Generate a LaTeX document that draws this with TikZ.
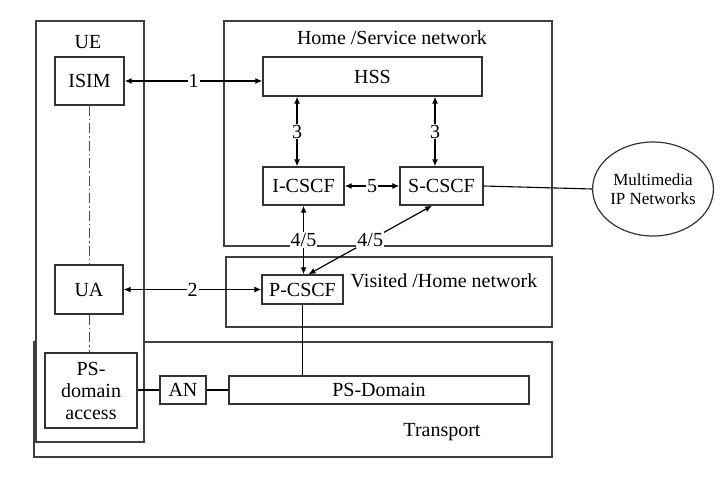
\documentclass[tikz,border=0pt]{standalone}
\usepackage{fontspec}
\setmainfont{Liberation Serif}
\usetikzlibrary{arrows.meta,shapes.geometric}
\begin{document}
\begin{tikzpicture}[x=1pt,y=-1pt,
  frame/.style={draw=black!75,line width=1.4pt,fill=white},
  blk/.style={draw=black!80,line width=1.4pt,fill=white,inner sep=0pt,align=center,
    font=\fontsize{20}{22}\selectfont},
  ttl/.style={inner sep=0pt,font=\fontsize{20}{22}\selectfont},
  lbl/.style={fill=white,inner sep=1pt,font=\fontsize{20}{22}\selectfont},
  conn/.style={line width=1.2pt,{Latex[length=7pt,width=6pt]}-{Latex[length=7pt,width=6pt]}},
  plain/.style={line width=1.1pt},
  dd/.style={line width=0.9pt,draw=black!70,dash pattern=on 10pt off 3pt on 1.5pt off 3pt}]
\useasboundingbox (0,0) rectangle (727,478);
% frames
\draw[frame] (34,342) rectangle (552,457);
\draw[frame] (36,21) rectangle (144,442);
\draw[frame] (224,21) rectangle (552,246);
\draw[frame] (226,257) rectangle (552,327);
\node[ttl] (tUE) at (88,42) {UE};
\node[ttl] (tHome) at (392,38) {Home /Service network};
\node[ttl] (tVis) at (444,281) {Visited /Home network};
\node[ttl] (tTr) at (442,432) {Transport};
% blocks
\node[blk,minimum width=69pt,minimum height=48pt] (isim) at (89.5,81) {ISIM};
\node[blk,minimum width=219pt,minimum height=39pt] (hss) at (372.5,76.5) {HSS};
\node[blk,minimum width=81pt,minimum height=38pt] (icscf) at (303.5,186) {I-CSCF};
\node[blk,minimum width=83pt,minimum height=38pt] (scscf) at (441.5,186) {S-CSCF};
\node[blk,minimum width=68pt,minimum height=49pt] (ua) at (89,289.5) {UA};
\node[blk,minimum width=81pt,minimum height=29pt] (pcscf) at (302.5,289.5) {P-CSCF};
\node[blk,minimum width=92pt,minimum height=75pt,font=\fontsize{20}{22}\selectfont] (psa) at (91,390.5) {PS-\\domain\\access};
\node[blk,minimum width=46pt,minimum height=28pt] (an) at (183,390) {AN};
\node[blk,minimum width=300pt,minimum height=28pt] (psd) at (379,390) {PS-Domain};
\node[draw=black!80,line width=1.2pt,ellipse,minimum width=116pt,minimum height=94pt,inner sep=0pt,
  align=center,font=\fontsize{17}{19}\selectfont] (mm) at (653,189) {Multimedia\\IP Networks};
% connectors
\draw[conn] (isim.east) -- node[lbl] {1} (isim.east -| hss.west);
\draw[conn] (ua.east) -- node[lbl] {2} (ua.east -| pcscf.west);
\draw[conn] ([xshift=-6.5pt]icscf.north |- hss.south) -- node[lbl] {3} ([xshift=-6.5pt]icscf.north);
\draw[conn] ([xshift=-6.5pt]scscf.north |- hss.south) -- node[lbl] {3} ([xshift=-6.5pt]scscf.north);
\draw[conn] (icscf.east) -- node[lbl] {5} (scscf.west);
\draw[conn] (icscf.south) -- node[lbl] {4/5} (icscf.south |- pcscf.north);
\draw[conn] ([xshift=-9.5pt]scscf.south) -- node[lbl] {4/5} ([xshift=6pt]pcscf.north);
\draw[plain] (scscf.east) -- (mm.west);
\draw[plain] (pcscf.south) -- (pcscf.south |- psd.north);
\draw[plain] (psa.east |- an.west) -- (an.west);
\draw[plain] (an.east) -- (psd.west);
\draw[dd] (isim.south) -- (isim.south |- ua.north);
\draw[dd] (ua.south) -- (ua.south |- psa.north);
\end{tikzpicture}
\end{document}
